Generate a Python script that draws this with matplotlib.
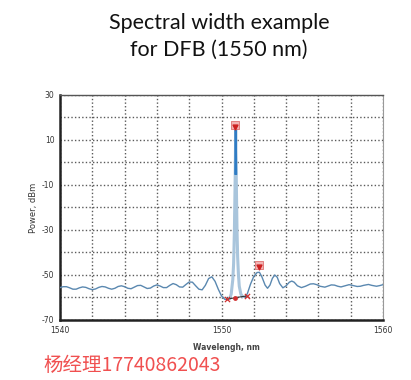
import matplotlib
matplotlib.use("Agg")
import matplotlib.pyplot as plt
import numpy as np

plt.rcParams['axes.unicode_minus'] = False

# spectrum (nm, dBm)
wavelength = [
    1540.0, 1540.2, 1540.4, 1540.6, 1540.8, 1541.0, 1541.2, 1541.4, 1541.6, 1541.8,
    1542.0, 1542.2, 1542.4, 1542.6, 1542.8, 1543.0, 1543.2, 1543.4, 1543.6, 1543.8,
    1544.0, 1544.2, 1544.4, 1544.6, 1544.8, 1545.0, 1545.2, 1545.4, 1545.6, 1545.8,
    1546.0, 1546.2, 1546.4, 1546.6, 1546.8, 1547.0, 1547.2, 1547.4, 1547.6, 1547.8,
    1548.0, 1548.2, 1548.4, 1548.6, 1548.8, 1549.0, 1549.2, 1549.4, 1549.6, 1549.8,
    1550.0, 1550.2, 1550.4, 1550.5, 1550.6, 1550.7, 1550.75, 1550.8, 1550.85, 1550.88,
    1550.91, 1550.96, 1551.0, 1551.05, 1551.1, 1551.2, 1551.3, 1551.45, 1551.6, 1551.8,
    1552.0, 1552.2, 1552.35, 1552.5, 1552.7, 1552.85, 1553.0, 1553.15, 1553.3, 1553.45,
    1553.6, 1553.8, 1554.0, 1554.2, 1554.35, 1554.5, 1554.7, 1554.95, 1555.2, 1555.5,
    1555.7, 1555.9, 1556.1, 1556.4, 1556.6, 1556.8, 1557.0, 1557.2, 1557.4, 1557.6,
    1557.9, 1558.1, 1558.4, 1558.6, 1558.8, 1559.1, 1559.3, 1559.6, 1559.8, 1560.0,
]
power = [
    -55.6, -55.2, -55.2, -55.7, -56.3, -56.3, -55.7, -55.3, -55.5, -56.1,
    -56.5, -56.2, -55.5, -55.1, -55.3, -55.9, -56.3, -55.9, -55.1, -54.8,
    -55.2, -55.9, -56.1, -55.4, -54.7, -54.6, -55.3, -56.0, -55.8, -54.9,
    -54.4, -54.9, -55.6, -55.6, -54.6, -53.8, -54.3, -55.3, -55.4, -54.2,
    -53.1, -53.2, -54.8, -56.3, -56.6, -54.6, -51.6, -50.8, -52.8, -56.3,
    -59.3, -60.8, -60.9, -60.4, -58.5, -52.0, -45.0, -30.0, -5.0, 15.3,
    -5.0, -30.0, -42.0, -50.0, -55.0, -58.5, -59.6, -59.8, -58.3, -54.0,
    -50.6, -48.9, -48.8, -50.8, -54.5, -55.9, -54.5, -51.5, -50.0, -51.0,
    -53.8, -55.7, -54.8, -53.2, -52.7, -53.2, -54.8, -55.6, -55.0, -54.0,
    -53.9, -54.3, -55.0, -55.4, -54.9, -54.4, -54.5, -55.0, -55.3, -54.9,
    -54.3, -54.6, -55.1, -55.0, -54.6, -54.2, -54.6, -55.0, -54.7, -54.3,
]

# analyzer markers
peak_marks_x = [1550.84, 1552.34]
peak_marks_y = [15.9, -46.3]
edge_marks_x = [1550.32, 1551.56]
edge_marks_y = [-60.8, -59.3]
center_mark = (1550.84, -60.1)

wl = np.array(wavelength)
pw = np.array(power)

fig = plt.figure(figsize=(4.11, 3.8), dpi=100)
ax = fig.add_axes([60 / 411, 1 - 320 / 380, 323 / 411, 225 / 380])

# grid
ax.set_xlim(1540, 1560)
ax.set_ylim(-70, 30)
ax.set_xticks([1540, 1550, 1560])
ax.set_xticks(np.arange(1542, 1560, 2), minor=True)
ax.set_yticks([30, 10, -10, -30, -50, -70])
ax.set_yticks([20, 0, -20, -40, -60], minor=True)
ax.grid(True, which='both', color='#5a5a5a', linestyle=(0, (1, 1.6)), linewidth=1.0)
ax.tick_params(which='both', length=0)
ax.tick_params(axis='both', labelsize=5.5, labelcolor='#333333', pad=4)

# spectrum
ax.plot(wl, pw, color='#5a88b0', linewidth=1.0, zorder=3)
pk = (wl >= 1550.5) & (wl <= 1551.3)
ax.plot(wl[pk], pw[pk], color='#a9c5dc', linewidth=2.2, zorder=4)
top = (wl >= 1550.85) & (wl <= 1550.91)
ax.plot(wl[top], pw[top], color='#2f7cc4', linewidth=1.5, zorder=5)

# markers
ax.scatter(peak_marks_x, [y + 0.8 for y in peak_marks_y], marker='s', s=34,
           facecolor='#f2b3b3', edgecolor='#e07070', linewidth=0.6, zorder=6)
ax.scatter(peak_marks_x, peak_marks_y, marker='v', s=12, color='#cc2020', zorder=7)
ax.plot([edge_marks_x[0], center_mark[0], edge_marks_x[1]],
        [edge_marks_y[0], center_mark[1], edge_marks_y[1]],
        color='#333333', linewidth=0.8, zorder=6)
ax.scatter(edge_marks_x, edge_marks_y, marker='x', s=14, color='#d03030',
           linewidth=0.9, zorder=7)
ax.scatter([center_mark[0]], [center_mark[1]], marker='o', s=6, color='#d03030', zorder=7)

for side in ['left', 'bottom']:
    ax.spines[side].set_linewidth(1.8)
    ax.spines[side].set_color('#222222')
ax.spines['top'].set_linewidth(1.0)
ax.spines['top'].set_color('#555555')
ax.spines['right'].set_linewidth(0.8)
ax.spines['right'].set_color('#999999')

ax.set_ylabel('Power, dBm', fontsize=6, color='#333333', labelpad=3)
fig.text(226 / 411, 1 - 347 / 380, 'Wavelengh, nm', ha='center', va='center',
         fontsize=5.5, color='#444444', fontweight='bold')

fig.text(219 / 411, 1 - 23 / 380, 'Spectral width example', ha='center', va='center',
         fontsize=15.5, family='Lato', color='#111111')
fig.text(219 / 411, 1 - 50 / 380, 'for DFB (1550 nm)', ha='center', va='center',
         fontsize=15.5, family='Lato', color='#111111')
fig.text(43 / 411, 1 - 365 / 380, '杨经理17740862043', ha='left', va='center',
         fontsize=14, family=['Noto Sans CJK SC', 'DejaVu Sans'], color='#f05050')

fig.savefig('out.png', dpi=100)
